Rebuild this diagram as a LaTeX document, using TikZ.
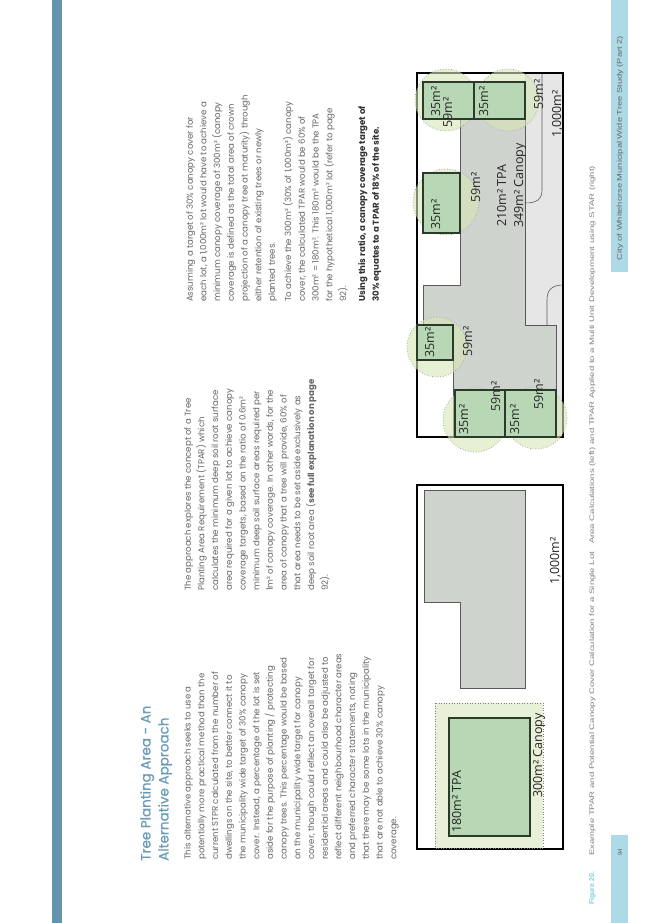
\documentclass[tikz,border=0pt]{standalone}
\usepackage{fontspec}
\setmainfont{Poppins}
\newfontfamily\titlefont[FakeBold=0.6]{Poppins}
\newfontfamily\figfont{Open Sans}
\newfontfamily\capfont{Liberation Sans}
\definecolor{bodygray}{HTML}{666666}
\definecolor{titleblue}{HTML}{6A9DB5}
\definecolor{stripblue}{HTML}{6494AB}
\definecolor{sideblue}{HTML}{ADDAE6}
\definecolor{capcyan}{HTML}{7DD0E0}
\definecolor{boxgreen}{HTML}{B7D7B5}
\definecolor{boxedge}{HTML}{2B3A2B}
\definecolor{bldgray}{HTML}{CED3CD}
\definecolor{lightgray}{HTML}{E6E6E6}
\definecolor{canopy}{HTML}{D6E6B4}
\definecolor{canopyrect}{HTML}{E8F0D8}
\begin{document}
\begin{tikzpicture}[x=1pt,y=-1pt,
  body/.style={rotate=90,anchor=north west,inner sep=0,align=left,text=bodygray,font=\fontsize{8.6}{13.7}\selectfont},
  lbl/.style={rotate=90,anchor=base west,inner sep=0,font=\figfont\fontsize{12.5}{12.5}\selectfont,text=black!85},
  treebox/.style={fill=boxgreen,draw=boxedge,line width=1.3pt},
  crown/.style={fill=canopy,fill opacity=0.6,draw=gray!80,dotted,line width=0.7pt},
  lot/.style={draw=black,line width=1.2pt},
  bld/.style={fill=bldgray,draw=black!65,line width=0.6pt}]
\useasboundingbox (0,0) rectangle (653,923);
\fill[white] (0,0) rectangle (653,923);
% left strip
\fill[stripblue] (52,0) rectangle (62,923);
% sidebar
\fill[sideblue] (611,0) rectangle (628,272);
\fill[sideblue] (611,835) rectangle (628,923);
\node[rotate=90,inner sep=0,text=black!60] (side) at (620,148) {\resizebox{224pt}{5pt}{\capfont City of Whitehorse Municipal Wide Tree Study (Part 2)}};
\node[rotate=90,inner sep=0,text=black!60,font=\capfont\fontsize{6}{6}\selectfont] (pg) at (620,852) {94};
% caption
\node[rotate=90,anchor=base west,inner sep=0,text=capcyan,font=\capfont\bfseries\fontsize{7}{7}\selectfont] (fig) at (594,905) {Figure 20.};
\node[rotate=90,anchor=base west,inner sep=0,text=black!50] (cap) at (594,856) {\resizebox{690pt}{4.8pt}{\capfont Example TPAR and Potential Canopy Cover Calculation for a Single Lot \ \ Area Calculations (left) and TPAR Applied to a Multi Unit Development using STAR (right)}};
% title
\node[rotate=90,anchor=north west,inner sep=0,align=left,text=titleblue,font=\titlefont\fontsize{13.5}{18}\selectfont] (title) at (140,861) {Tree Planting Area - An\\Alternative Approach};
% columns
\node[body] (c1) at (184,860) {This alternative approach seeks to use a\\
potentially more practical method than the\\
current STPR calculated from the number of\\
dwellings on the site, to better connect it to\\
the municipality wide target of 30\% canopy\\
cover. Instead, a percentage of the lot is set\\
aside for the purpose of planting / protecting\\
canopy trees. This percentage would be based\\
on the municipality wide target for canopy\\
cover, though could reflect an overall target for\\
residential areas and could also be adjusted to\\
reflect different neighbourhood character areas\\
and preferred character statements, noting\\
that there may be some lots in the municipality\\
that are not able to achieve 30\% canopy\\
coverage.};
\node[body] (c2) at (184,591) {The approach explores the concept of a Tree\\
Planting Area Requirement (TPAR) which\\
calculates the minimum deep soil root surface\\
area required for a given lot to achieve canopy\\
coverage targets, based on the ratio of 0.6m²\\
minimum deep soil surface areas required per\\
1m² of canopy coverage. In other words, for the\\
area of canopy that a tree will provide, 60\% of\\
that area needs to be set aside exclusively as\\
deep soil root area (\textbf{see full explanation on page}\\
92).};
\node[body] (c3a) at (186,302) {Assuming a target of 30\% canopy cover for\\
each lot, a 1,000m² lot would have to achieve a\\
minimum canopy coverage of 300m² (canopy\\
coverage is defined as the total area of crown\\
projection of a canopy tree at maturity) through\\
either retention of existing trees or newly\\
planted trees.};
\node[body] (c3b) at (283,302) {To achieve the 300m² (30\% of 1,000m²) canopy\\
cover, the calculated TPAR would be 60\% of\\
300m² = 180m². This 180m² would be the TPA\\
for the hypothetical 1,000m² lot (refer to page\\
92).};
\node[body,text=black!80,font=\bfseries\fontsize{8.6}{13.7}\selectfont] (c3c) at (358,302) {Using this ratio, a canopy coverage target of\\
30\% equates to a TPAR of 18\% of the site.};
% ---------- left diagram
\draw[lot,fill=white] (417,485) rectangle (563,849);
\draw[fill=canopyrect,draw=gray,dotted,line width=0.6pt] (435,703) rectangle (543,848);
\draw[treebox] (449,718) rectangle (530,836);
\draw[bld] (424,490) -- (525,490) -- (525,688) -- (460,688) -- (460,602) -- (424,602) -- cycle;
\node[lbl] (l1) at (461,833) {180m² TPA};
\node[lbl] (l2) at (542,798) {300m² Canopy};
\node[lbl] (l3) at (559,585) {1,000m²};
% ---------- right diagram
\draw[lot,fill=white] (417,73) rectangle (563,437);
\fill[lightgray] (525,73) rectangle (563,437);
\draw[bld] (460,82) -- (525,82) -- (525,325) -- (556,325) -- (556,437) -- (453,437) -- (453,360) -- (423,360) -- (423,285) -- (460,285) -- cycle;
\draw[black!65,line width=0.6pt] (542,73) -- (542,190) .. controls (542,200) and (536,203) .. (525,203);
\draw[black!65,line width=0.6pt] (563,285) .. controls (552,285) and (547,290) .. (547,300) -- (547,325);
\draw[lot] (417,73) rectangle (563,437);
% crowns
\draw[crown] (446,100) circle[radius=31];
\draw[crown] (508,100) circle[radius=31];
\draw[crown] (446,202) circle[radius=33];
\draw[crown] (437,347) circle[radius=30];
\draw[crown] (475,420) circle[radius=32];
\draw[crown] (536,418) circle[radius=31];
% tree boxes
\draw[treebox] (423,82) rectangle (474,119);
\draw[treebox] (474,82) rectangle (525,119);
\draw[treebox] (423,173) rectangle (460,233);
\draw[treebox] (417,325) rectangle (453,360);
\draw[treebox] (455,390) rectangle (505,437);
\draw[treebox] (505,390) rectangle (556,437);
% labels
\node[lbl] (b1a) at (440,117) {35m²};
\node[lbl] (b1b) at (452,128) {59m²};
\node[lbl] (b2a) at (488,117) {35m²};
\node[lbl] (b2b) at (543,110) {59m²};
\node[lbl] (b3a) at (440,230) {35m²};
\node[lbl] (b3b) at (480,203) {59m²};
\node[lbl] (b4a) at (434,358) {35m²};
\node[lbl] (b4b) at (472,357) {59m²};
\node[lbl] (b5a) at (468,435) {35m²};
\node[lbl] (b5b) at (500,412) {59m²};
\node[lbl] (b6a) at (519,435) {35m²};
\node[lbl] (b6b) at (543,410) {59m²};
\node[lbl] (tpa) at (506,227) {210m² TPA};
\node[lbl] (can) at (523,228) {349m² Canopy};
\node[lbl] (r1000) at (561,138) {1,000m²};
\end{tikzpicture}
\end{document}
